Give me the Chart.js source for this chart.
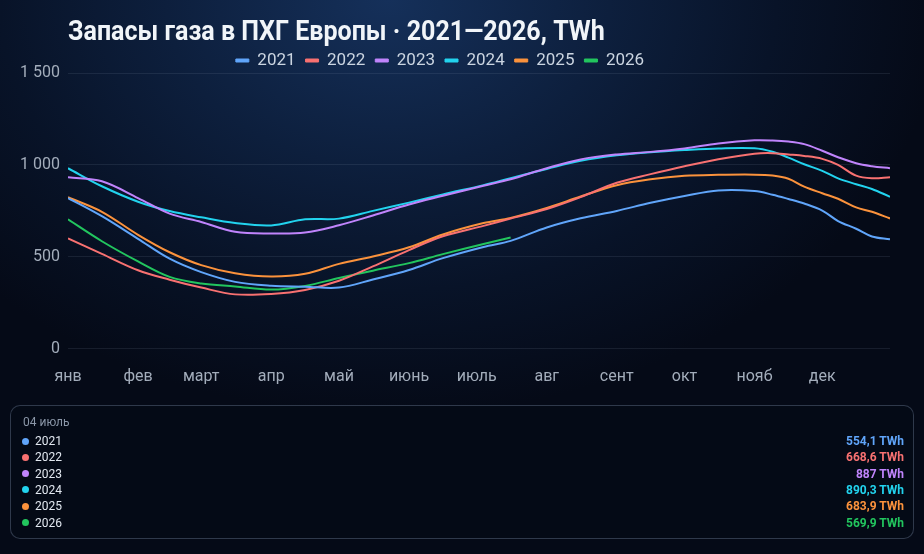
<!DOCTYPE html>
<html lang="ru">
<head>
<meta charset="utf-8">
<script src="https://cdn.jsdelivr.net/npm/chart.js@4.4.1/dist/chart.umd.min.js"></script>
<style>
  html, body { margin:0; padding:0; }
  body {
    width:924px; height:554px; overflow:hidden; position:relative;
    font-family: Roboto, "Noto Sans", sans-serif;
    background:
      radial-gradient(ellipse 60% 75% at 42% 0%, #15305a 0%, #0d1f3d 40%, #081328 70%, #050a17 100%);
  }
  #title {
    position:absolute; left:68px; top:14px; margin:0;
    font: 700 28px Roboto, sans-serif; color:#f1f5f9; white-space:nowrap;
    transform-origin: 0 0; z-index:3; letter-spacing:0;
  }
  #wrap { position:absolute; left:-10px; top:0; width:934px; height:406px; z-index:1; }
  #panel {
    position:absolute; left:10px; top:405px; width:902px; height:132px;
    border:1px solid rgba(100,116,139,0.45); border-radius:10px;
    background:#040a16; z-index:2; box-sizing:content-box;
  }
  #panel .hdr { position:absolute; left:12px; top:9px; font:400 12px Roboto, sans-serif; color:#8b97a8; }
  #panel .row { position:absolute; left:0; right:0; height:16px; font:400 12px Roboto, sans-serif; color:#e2e8f0; }
  #panel .dot { position:absolute; left:11px; top:4.5px; width:7px; height:7px; border-radius:50%; }
  #panel .lbl { position:absolute; left:24px; top:0; line-height:16px; }
  #panel .val { position:absolute; right:9px; top:0; line-height:16px; font-weight:700; }
</style>
</head>
<body>
<div id="title">Запасы газа в ПХГ Европы · 2021—2026, TWh</div>
<div id="wrap"><canvas id="c"></canvas></div>
<div id="panel"></div>
<script>
// ---- data (day of year, 0 = 1 Jan) ----
const days = [0, 15, 31, 45, 59, 74, 90, 105, 120, 135, 151, 166, 184, 196, 212, 227, 243, 258, 273, 288, 304, 312, 319, 326, 334, 341, 349, 356, 364];
const monthStarts = [0, 31, 59, 90, 120, 151, 181, 212, 243, 273, 304, 334];
const monthLabels = ['янв', 'фев', 'март', 'апр', 'май', 'июнь', 'июль', 'авг', 'сент', 'окт', 'нояб', 'дек'];
const years = ['2021', '2022', '2023', '2024', '2025', '2026'];
const yTicks = [0, 500, 1000, 1500];

const s2021 = [820, 721, 598, 490, 417, 364, 343, 338, 333, 377, 429, 493, 554.1, 587, 660, 710, 750, 794, 831, 861, 858, 838, 815, 790, 752, 695, 653, 611, 596];
const s2022 = [600, 516, 427, 376, 333, 296, 298, 320, 370, 448, 537, 612, 668.6, 708, 760, 825, 903, 950, 993, 1031, 1061, 1064, 1057, 1049, 1033, 1000, 942, 928, 933];
const s2023 = [933, 911, 820, 735, 690, 636, 627, 632, 672, 725, 785, 832, 887, 922, 982, 1030, 1057, 1071, 1090, 1117, 1134, 1133, 1127, 1113, 1077, 1042, 1009, 993, 982];
const s2024 = [982, 884, 800, 749, 715, 684, 671, 704, 708, 750, 795, 840, 890.3, 928, 978, 1022, 1052, 1069, 1081, 1090, 1091, 1072, 1040, 1004, 968, 927, 895, 869, 827];
const s2025 = [824, 745, 620, 525, 455, 411, 393, 408, 462, 502, 552, 622, 683.9, 712, 766, 828, 890, 922, 941, 946, 947, 942, 925, 882, 846, 816, 769, 745, 709];
const s2026 = [704, 585, 475, 391, 355, 339, 322, 342, 385, 425, 466, 515, 569.9, 605];

const panelDay = 184;
const panelLabel = '04 июль';

// ---- styles ----
const colors = ['#60a5fa', '#f87171', '#c084fc', '#22d3ee', '#fb923c', '#22c55e'];
const series = [s2021, s2022, s2023, s2024, s2025, s2026];

const fmt = v => v.toLocaleString('ru-RU', { maximumFractionDigits: 1 });

const datasets = years.map((y, i) => ({
  label: y,
  data: series[i].map((v, k) => ({ x: days[k], y: v })),
  borderColor: colors[i],
  backgroundColor: colors[i],
  borderWidth: 2,
  pointRadius: 0,
  tension: 0.35,
  fill: false
}));

new Chart(document.getElementById('c'), {
  type: 'line',
  data: { datasets },
  options: {
    responsive: true,
    maintainAspectRatio: false,
    animation: false,
    layout: { padding: { top: 42, right: 34, left: 0, bottom: 0 } },
    plugins: {
      title: { display: false },
      tooltip: { enabled: false },
      legend: {
        display: true,
        position: 'top',
        maxHeight: 31,
        labels: {
          color: '#cbd5e1',
          font: { family: 'Roboto', size: 17, weight: '400' },
          boxWidth: 13,
          boxHeight: 3,
          padding: 10,
          generateLabels(chart) {
            return chart.data.datasets.map((d, i) => ({
              text: d.label, fillStyle: d.borderColor, strokeStyle: d.borderColor,
              lineWidth: 1, hidden: false, datasetIndex: i, fontColor: '#cbd5e1'
            }));
          }
        }
      }
    },
    scales: {
      x: {
        type: 'linear',
        min: 0, max: 364,
        grid: { display: false, drawTicks: false },
        border: { display: false },
        afterBuildTicks(scale) { scale.ticks = monthStarts.map(v => ({ value: v })); },
        ticks: {
          autoSkip: false, maxRotation: 0,
          color: '#a3adbb',
          font: { family: 'Roboto', size: 16 },
          padding: 19,
          callback(v) { const i = monthStarts.indexOf(v); return i >= 0 ? monthLabels[i] : ''; }
        }
      },
      y: {
        min: 0, max: 1500,
        afterBuildTicks(scale) { scale.ticks = yTicks.map(v => ({ value: v })); },
        afterFit(scale) { scale.width = 78; },
        grid: { color: 'rgba(148,163,184,0.13)', lineWidth: 1, drawTicks: false },
        border: { display: false },
        ticks: {
          color: '#a3adbb',
          font: { family: 'Roboto', size: 16 },
          padding: 8,
          callback: v => fmt(v)
        }
      }
    }
  }
});

// title width fit
const t = document.getElementById('title');
const targetW = 537;
t.style.transform = 'scaleX(' + (targetW / t.offsetWidth) + ')';

// bottom panel from data
const panel = document.getElementById('panel');
const idx = days.indexOf(panelDay);
let html = '<div class="hdr">' + panelLabel + '</div>';
years.forEach((y, i) => {
  const top = 27 + i * 16.3;
  html += '<div class="row" style="top:' + top + 'px">' +
    '<span class="dot" style="background:' + colors[i] + '"></span>' +
    '<span class="lbl">' + y + '</span>' +
    '<span class="val" style="color:' + colors[i] + '">' + fmt(series[i][idx]) + ' TWh</span></div>';
});
panel.innerHTML = html;
</script>
</body>
</html>
